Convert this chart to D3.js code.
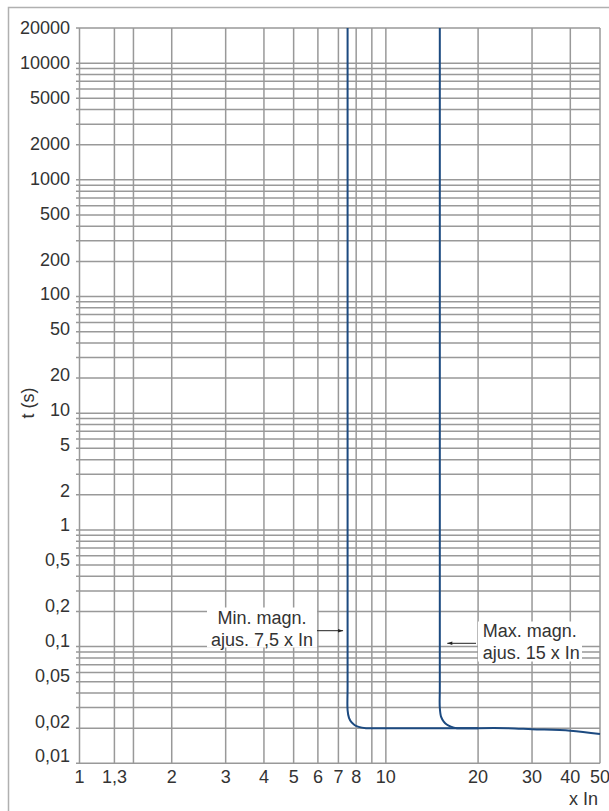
<!DOCTYPE html>
<html>
<head>
<meta charset="utf-8">
<script src="https://cdn.jsdelivr.net/npm/d3@7"></script>
<style>
  html, body { margin: 0; padding: 0; background: #fff; }
  svg { display: block; }
  text { font-family: "Liberation Sans", Arial, Helvetica, sans-serif; fill: #333; }
</style>
</head>
<body>
<svg id="chart" width="609" height="811"></svg>
<script>
// ---- data ----
const xGridValues = [1, 1.3, 1.5, 2, 3, 4, 5, 6, 7, 8, 9, 10, 20, 30, 40, 50];
const xTickLabels = [1, 1.3, 2, 3, 4, 5, 6, 7, 8, 10, 20, 30, 40, 50];
const yTickLabels = [20000, 10000, 5000, 2000, 1000, 500, 200, 100, 50, 20, 10, 5, 2, 1, 0.5, 0.2, 0.1, 0.05, 0.02, 0.01];
const yDecades = [0.01, 0.1, 1, 10, 100, 1000];
const yTopValues = [10000, 20000];

// tripping curves: [x In, t (s)]
const curveMin = [[7.5, 20000], [7.5, 0.045], [7.5, 0.0286], [7.58, 0.0245], [7.72, 0.0225], [7.9, 0.0213], [8.15, 0.0205], [8.61, 0.02], [9.5, 0.02], [17, 0.02], [20, 0.02]];
const curveMax = [[15, 20000], [15, 0.045], [15, 0.0298], [15.15, 0.025], [15.45, 0.0228], [15.8, 0.0215], [16.3, 0.0206], [17.06, 0.02], [18.5, 0.02], [25, 0.02], [30, 0.0196], [40, 0.019], [50, 0.0178]];

const annotMin = ["Min. magn.", "ajus. 7,5 x In"];
const annotMax = ["Max. magn.", "ajus. 15 x In"];
const annotMinTarget = 7.5;
const annotMaxTarget = 15;

// ---- layout ----
const svg = d3.select("#chart");
const L = 79.5, R = 600, T = 28, B = 763.3;
const x = d3.scaleLog().domain([1, 50]).range([L, R]);
const y = d3.scaleLog().domain([0.01, 20000]).range([B, T]);
const yLab = d3.scaleLog().domain([0.01, 20000]).range([756, 28]);
const fmt = v => String(v).replace(".", ",");

// outer frame
svg.append("path")
  .attr("d", `M8.5,811 V7.5 H609`)
  .attr("fill", "none").attr("stroke", "#b0b0b0").attr("stroke-width", 1.5);

// y grid values
const yGridValues = [];
yDecades.forEach(d => { for (let m = 1; m <= 9; m++) yGridValues.push(+(m * d).toPrecision(3)); });
yTopValues.forEach(v => yGridValues.push(v));

const grid = svg.append("g").attr("stroke", "#999").attr("stroke-width", 1.5);
grid.selectAll("line.h").data(yGridValues).join("line")
  .attr("class", "h")
  .attr("x1", L - 3.5).attr("x2", R)
  .attr("y1", d => y(d)).attr("y2", d => y(d));
grid.selectAll("line.v").data(xGridValues).join("line")
  .attr("class", "v")
  .attr("x1", d => x(d)).attr("x2", d => x(d))
  .attr("y1", T).attr("y2", B);

// y labels
svg.append("g").selectAll("text").data(yTickLabels).join("text")
  .attr("x", 70).attr("y", d => yLab(d)).attr("dy", "0.36em")
  .attr("text-anchor", "end").attr("font-size", 18)
  .text(fmt);

// x labels
svg.append("g").selectAll("text").data(xTickLabels).join("text")
  .attr("x", d => x(d)).attr("y", 782.5)
  .attr("text-anchor", "middle").attr("font-size", 18)
  .text(fmt);

// axis titles
svg.append("text").attr("x", 598).attr("y", 804.5)
  .attr("text-anchor", "end").attr("font-size", 18).text("x In");
svg.append("text")
  .attr("transform", "translate(34,403) rotate(-90)")
  .attr("text-anchor", "middle").attr("font-size", 18).text("t (s)");

// curves
const line = d3.line().x(d => x(d[0])).y(d => y(d[1])).curve(d3.curveCatmullRom.alpha(0.5));
[curveMin, curveMax].forEach(c => {
  svg.append("path").datum(c).attr("d", line)
    .attr("fill", "none").attr("stroke", "#1c4a80").attr("stroke-width", 2);
});

// arrow marker
const defs = svg.append("defs");
defs.append("marker").attr("id", "ah").attr("viewBox", "0 0 10 10")
  .attr("refX", 10).attr("refY", 5).attr("markerWidth", 7).attr("markerHeight", 5)
  .attr("orient", "auto-start-reverse").attr("markerUnits", "userSpaceOnUse")
  .append("path").attr("d", "M0,1.5 L10,5 L0,8.5 Z").attr("fill", "#222");

// annotation: min
const minTx = x(annotMinTarget);
svg.append("rect").attr("x", 207).attr("y", 607.5).attr("width", 110).attr("height", 40).attr("fill", "#fff");
svg.append("text").attr("x", 262).attr("y", 623.5).attr("text-anchor", "middle").attr("font-size", 18).text(annotMin[0]);
svg.append("text").attr("x", 262).attr("y", 646).attr("text-anchor", "middle").attr("font-size", 18).text(annotMin[1]);
svg.append("line").attr("x1", 317).attr("x2", minTx - 4.5).attr("y1", 630.7).attr("y2", 630.7)
  .attr("stroke", "#222").attr("stroke-width", 1).attr("marker-end", "url(#ah)");

// annotation: max
const maxTx = x(annotMaxTarget);
svg.append("rect").attr("x", 478).attr("y", 621.5).attr("width", 104).attr("height", 40).attr("fill", "#fff");
svg.append("text").attr("x", 482.7).attr("y", 636.7).attr("font-size", 18).text(annotMax[0]);
svg.append("text").attr("x", 482.7).attr("y", 659.3).attr("font-size", 18).text(annotMax[1]);
svg.append("line").attr("x1", 476).attr("x2", maxTx + 7.5).attr("y1", 643.3).attr("y2", 643.3)
  .attr("stroke", "#222").attr("stroke-width", 1).attr("marker-end", "url(#ah)");
</script>
</body>
</html>
